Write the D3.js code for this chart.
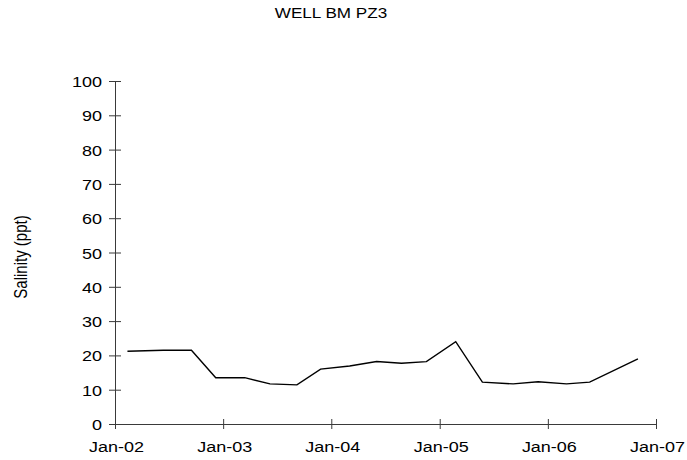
<!DOCTYPE html>
<html>
<head>
<meta charset="utf-8">
<script src="https://cdn.jsdelivr.net/npm/d3@7"></script>
<style>
  html, body { margin: 0; padding: 0; background: #fff; }
  svg { display: block; }
  text { font-family: "Liberation Sans", Arial, sans-serif; fill: #000; }
</style>
</head>
<body>
<svg id="chart" width="687" height="460"></svg>
<script>
// Sample dates and salinity readings for well BM PZ3
const sampleDates = [
  "2002-02-12", "2002-06-13", "2002-09-16", "2002-12-07",
  "2003-03-15", "2003-06-08", "2003-09-07", "2003-11-26",
  "2004-03-03", "2004-06-02", "2004-08-25", "2004-11-17",
  "2005-02-24", "2005-05-25", "2005-09-06", "2005-11-29",
  "2006-03-05", "2006-05-22", "2006-11-01"
];
const salinity = [
  21.2, 21.5, 21.5, 13.5,
  13.5, 11.7, 11.4, 16.0,
  16.9, 18.2, 17.7, 18.2,
  24.0, 12.2, 11.7, 12.3,
  11.7, 12.2, 19.0
];
const yTicks = [0, 10, 20, 30, 40, 50, 60, 70, 80, 90, 100];
const xTickDates = ["2002-01-01", "2003-01-01", "2004-01-01", "2005-01-01", "2006-01-01", "2007-01-01"];
const titleText = "WELL BM PZ3";
const yLabelText = "Salinity (ppt)";

const parse = d3.timeParse("%Y-%m-%d");
const data = sampleDates.map((d, i) => ({ date: parse(d), value: salinity[i] }));

const svg = d3.select("#chart");
const plotLeft = 115, plotRight = 656, plotTop = 81, plotBottom = 424;
const stretch = 1.2; // horizontal glyph stretch of the labels

const x = d3.scaleTime()
  .domain([parse(xTickDates[0]), parse(xTickDates[xTickDates.length - 1])])
  .range([plotLeft, plotRight]);
const y = d3.scaleLinear().domain([0, 100]).range([plotBottom, plotTop]);

const axisColor = "#3a3a3a";

// Y axis with cross tick marks
const yAxis = svg.append("g").attr("transform", `translate(${plotLeft},0)`)
  .call(d3.axisLeft(y).tickValues(yTicks).tickSizeInner(6).tickSizeOuter(0).tickFormat(d3.format("d")));
yAxis.select(".domain").attr("stroke", axisColor);
yAxis.selectAll(".tick line").attr("x1", 6).attr("x2", -6).attr("stroke", axisColor);
yAxis.selectAll(".tick text")
  .attr("x", null).attr("dy", null)
  .attr("font-size", 15)
  .attr("text-anchor", "end")
  .attr("transform", `translate(-13,5.5) scale(${stretch},1)`);

// X axis with cross tick marks
const xAxis = svg.append("g").attr("transform", `translate(0,${plotBottom})`)
  .call(d3.axisBottom(x).tickValues(xTickDates.map(parse)).tickSizeInner(5).tickSizeOuter(0)
    .tickFormat(d3.timeFormat("%b-%y")));
xAxis.select(".domain").attr("stroke", axisColor);
xAxis.selectAll(".tick line").attr("y1", -5).attr("y2", 5).attr("stroke", axisColor);
xAxis.selectAll(".tick text")
  .attr("y", null).attr("dy", null)
  .attr("font-size", 15)
  .attr("text-anchor", "middle")
  .attr("transform", `translate(1,27.5) scale(${stretch},1)`);
svg.selectAll(".tick text").attr("font-family", '"Liberation Sans", Arial, sans-serif').attr("fill", "#000");

// Salinity series
const line = d3.line().x(d => x(d.date)).y(d => y(d.value));
svg.append("path")
  .datum(data)
  .attr("d", line)
  .attr("fill", "none")
  .attr("stroke", "#000")
  .attr("stroke-width", 1.4)
  .attr("stroke-linejoin", "miter");

// Title
svg.append("text")
  .attr("transform", `translate(331,18) scale(1.14,1)`)
  .attr("text-anchor", "middle")
  .attr("font-size", 15)
  .text(titleText);

// Y axis label
svg.append("text")
  .attr("transform", `translate(27,257) scale(${stretch},1) rotate(-90)`)
  .attr("text-anchor", "middle")
  .attr("font-size", 15)
  .text(yLabelText);
</script>
</body>
</html>
